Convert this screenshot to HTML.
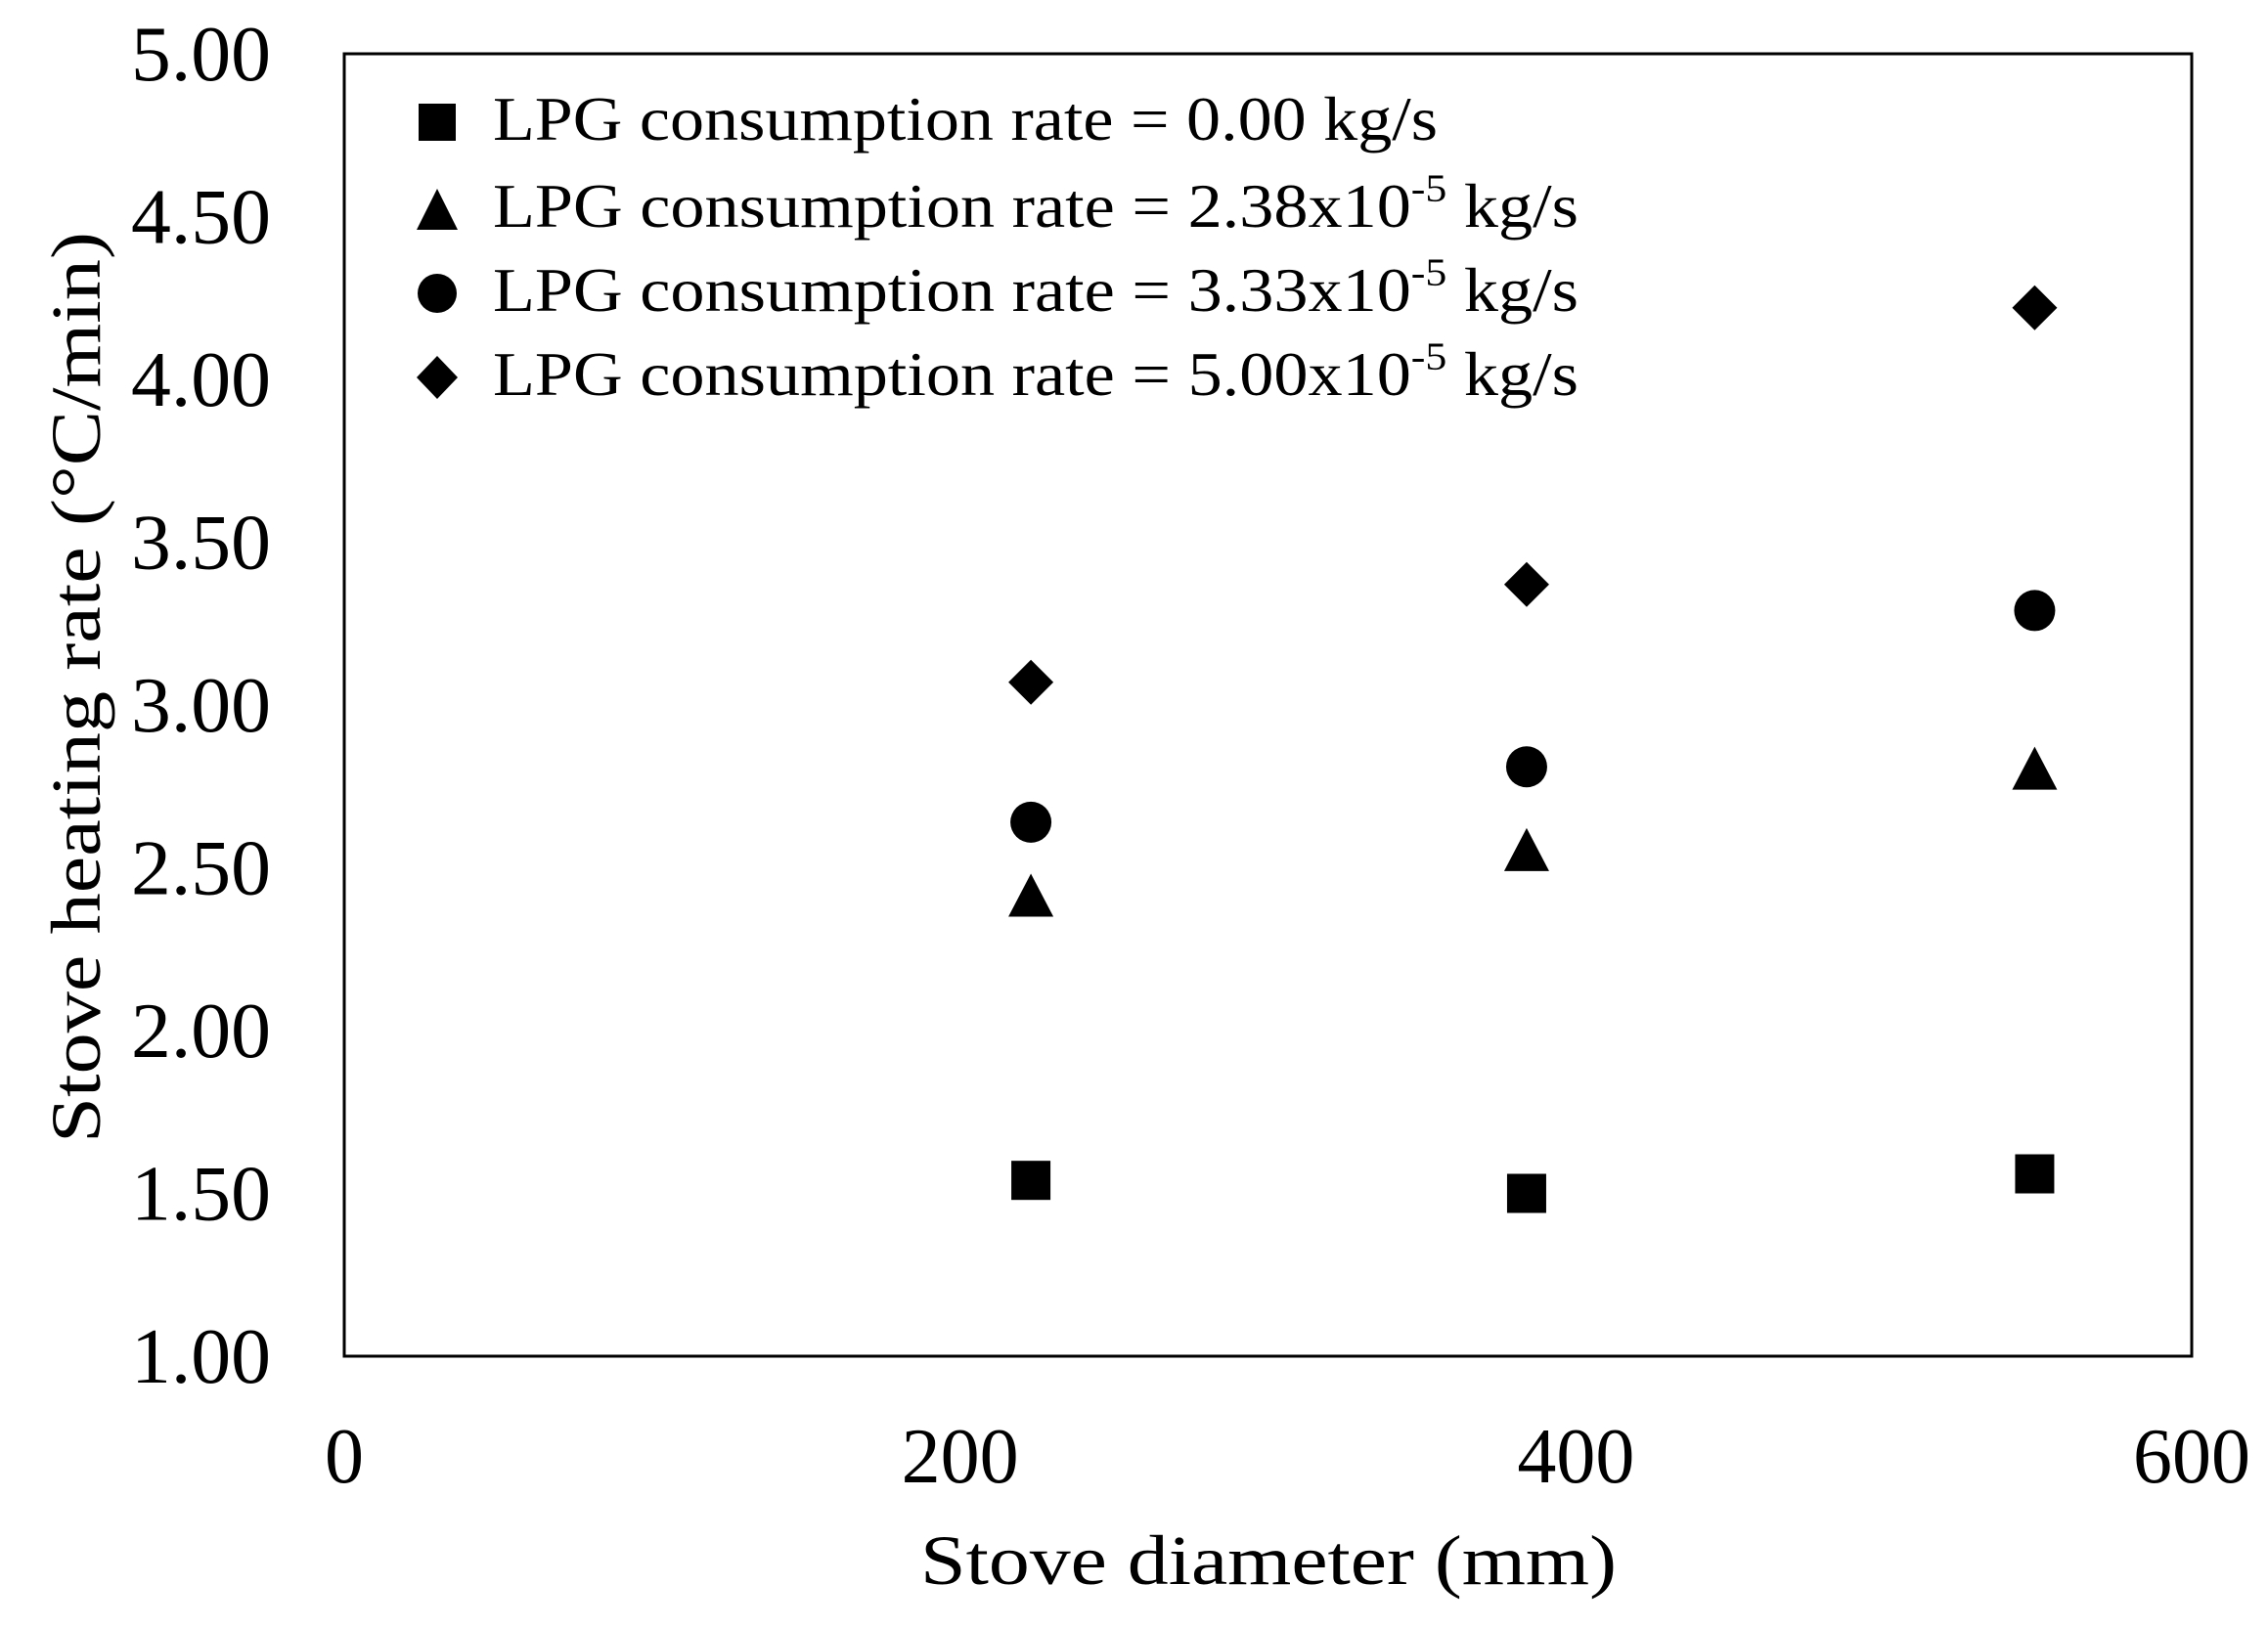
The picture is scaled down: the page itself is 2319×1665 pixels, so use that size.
<!DOCTYPE html>
<html><head><meta charset="utf-8"><style>
html,body{margin:0;padding:0;background:#fff}
svg{display:block}
text{font-family:"Liberation Serif",serif;fill:#000}
</style></head><body>
<svg id="chart" width="2319" height="1665" viewBox="0 0 2319 1665" xmlns="http://www.w3.org/2000/svg">
<rect x="352" y="55" width="1889" height="1332" fill="#fff" stroke="#000" stroke-width="3"/>
<g id="yticks"></g>
<g id="xticks"></g>
<g id="marks"></g>
<text x="1297" y="1620" font-size="72" text-anchor="middle" textLength="712" lengthAdjust="spacingAndGlyphs">Stove diameter (mm)</text>
<text transform="translate(102,703) rotate(-90)" font-size="72" text-anchor="middle" textLength="932" lengthAdjust="spacingAndGlyphs">Stove heating rate (°C/min)</text>
<g>
<rect x="428" y="106" width="38" height="38" fill="#000"/>
<polygon points="447,193 468,235 426,235" fill="#000"/>
<circle cx="447" cy="300" r="20" fill="#000"/>
<polygon points="447,364 468,386 447,408 426,386" fill="#000"/>
<text x="504" y="143" font-size="64" textLength="966" lengthAdjust="spacingAndGlyphs">LPG consumption rate = 0.00 kg/s</text>
<text x="504" y="232" font-size="64" textLength="1110" lengthAdjust="spacingAndGlyphs">LPG consumption rate = 2.38x10<tspan font-size="40" dy="-26">-5</tspan><tspan dy="26"> kg/s</tspan></text>
<text x="504" y="318" font-size="64" textLength="1110" lengthAdjust="spacingAndGlyphs">LPG consumption rate = 3.33x10<tspan font-size="40" dy="-26">-5</tspan><tspan dy="26"> kg/s</tspan></text>
<text x="504" y="404" font-size="64" textLength="1110" lengthAdjust="spacingAndGlyphs">LPG consumption rate = 5.00x10<tspan font-size="40" dy="-26">-5</tspan><tspan dy="26"> kg/s</tspan></text>
</g>
</svg>
<script>
const xValues = [223, 384, 549];
const seriesSquare = [1.54, 1.50, 1.56];
const seriesTriangle = [2.41, 2.55, 2.80];
const seriesCircle = [2.64, 2.81, 3.29];
const seriesDiamond = [3.07, 3.37, 4.22];
const yTickLabels = ["1.00","1.50","2.00","2.50","3.00","3.50","4.00","4.50","5.00"];
const xTickLabels = ["0","200","400","600"];

const NS = "http://www.w3.org/2000/svg";
const X0 = 352, X1 = 2241, Y0 = 1387, Y1 = 55;
function xs(v){ return X0 + (v - 0) / 600 * (X1 - X0); }
function ys(v){ return Y0 - (v - 1) / 4 * (Y0 - Y1); }
function mk(tag, attrs, parent){ const e = document.createElementNS(NS, tag); for (const k in attrs) e.setAttribute(k, attrs[k]); parent.appendChild(e); return e; }

const yg = document.getElementById('yticks');
yTickLabels.forEach(function(t){
  const e = mk('text', {x: 277, y: ys(parseFloat(t)) + 27, 'font-size': 80, 'text-anchor': 'end', textLength: 143, lengthAdjust: 'spacingAndGlyphs'}, yg);
  
  
  e.textContent = t;
});
const xg = document.getElementById('xticks');
xTickLabels.forEach(function(t){
  const e = mk('text', {x: xs(parseFloat(t)), y: 1516, 'font-size': 80, 'text-anchor': 'middle'}, xg);
  
  
  e.textContent = t;
});
const g = document.getElementById('marks');
xValues.forEach(function(xv, i){
  const cx = xs(xv);
  let y = ys(seriesSquare[i]);
  let e = mk('rect', {x: cx - 20, y: y - 20, width: 40, height: 40, fill: '#000'}, g);
  
  
  y = ys(seriesTriangle[i]);
  e = mk('polygon', {points: (cx) + ',' + (y - 24) + ' ' + (cx + 23) + ',' + (y + 20) + ' ' + (cx - 23) + ',' + (y + 20), fill: '#000'}, g);
  
  
  y = ys(seriesCircle[i]);
  e = mk('circle', {cx: cx, cy: y, r: 21, fill: '#000'}, g);
  
  
  y = ys(seriesDiamond[i]);
  e = mk('polygon', {points: cx + ',' + (y - 23) + ' ' + (cx + 23) + ',' + y + ' ' + cx + ',' + (y + 23) + ' ' + (cx - 23) + ',' + y, fill: '#000'}, g);
  
  
});
</script>
</body></html>
